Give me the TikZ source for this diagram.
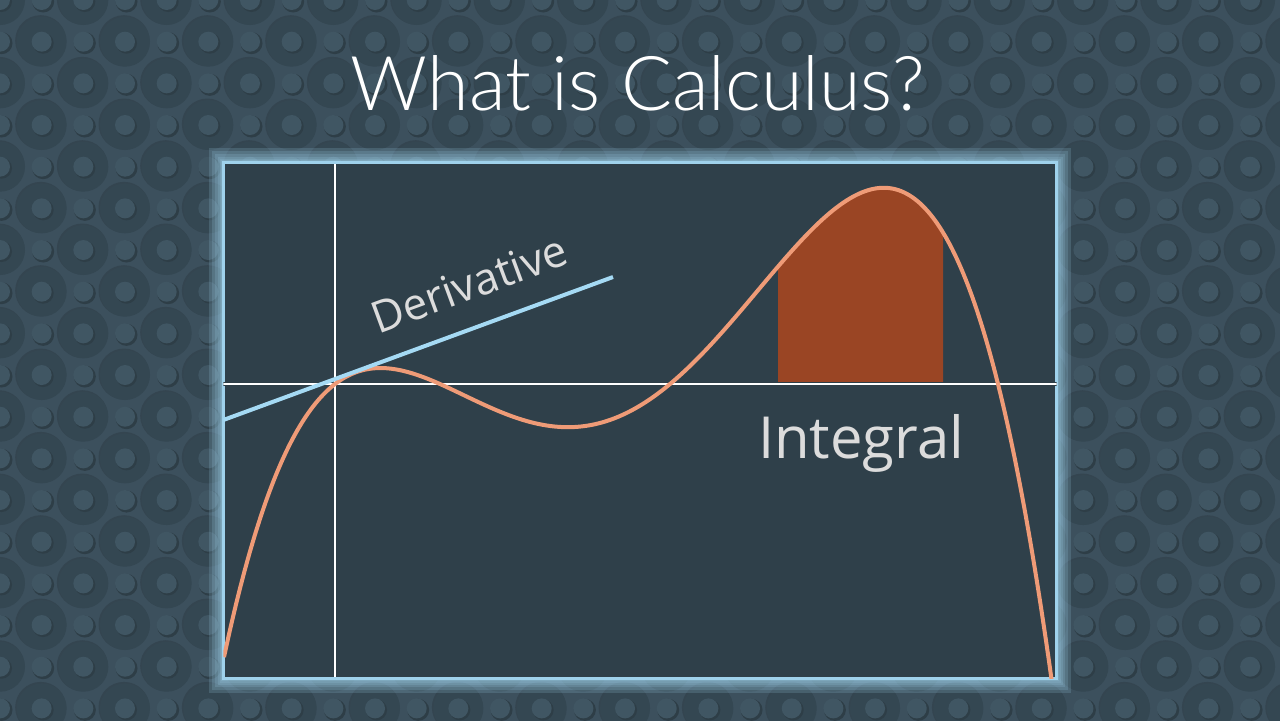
\documentclass[tikz,border=0pt]{standalone}
\usepackage{fontspec}
\setmainfont{Open Sans}
\newfontfamily\titlefont{Lato Light}
\usetikzlibrary{positioning, calc}
\definecolor{Slate}{HTML}{3C505D}
\definecolor{SlateDark}{HTML}{344752}
\definecolor{SlateLight}{HTML}{405663}
\definecolor{SlateShadow}{HTML}{2E3E47}
\definecolor{Board}{HTML}{2F404A}
\definecolor{Glow}{HTML}{9FD2EC}
\definecolor{Salmon}{HTML}{EF9B77}
\definecolor{Rust}{HTML}{9A4524}
\definecolor{SkyLine}{HTML}{A5DAF4}
\definecolor{Chalk}{HTML}{DCDCDC}
\tikzset{
  ringbig/.style={fill=SlateDark},
  dotsmall/.style={fill=SlateLight},
  panelbox/.style={rectangle, fill=Board, inner sep=0pt,
                   minimum width=83.2mm, minimum height=51.5mm},
  axisline/.style={draw=SlateShadow, line width=0.08mm, double=white,
                   double distance=0.28mm},
  funcline/.style={draw=Salmon, line width=0.4mm},
  tangline/.style={draw=SkyLine, line width=0.4mm},
  areafill/.style={fill=Rust},
  labeltext/.style={text=Chalk, inner sep=0pt},
  declare function={f(\x)=384+3.3*((\x-335)/100)*((\x-335)/100-1.05)*((\x-335)/100-3.35)*((\x-335)/100-6.63);}
}
\begin{document}
\begin{tikzpicture}[x=0.1mm, y=-0.1mm]
  \useasboundingbox (0,0) rectangle (1280,720);
  % patterned background
  \begin{scope}
    \clip (-5,-5) rectangle (1285,725);
    \fill[Slate] (-10,-10) rectangle (1290,730);
    \foreach \j in {0,...,18}{
      \foreach \i in {0,...,31}{
        \pgfmathtruncatemacro\isodd{mod(\i+\j,2)}
        \ifnum\isodd=0
          \fill[SlateShadow!60!Slate] (41.67*\i-1,41.67*\j-1) circle (25.5);
          \fill[ringbig] (41.67*\i,41.67*\j) circle (25);
          \fill[SlateShadow] (41.67*\i+1.5,41.67*\j+1.5) circle (10.5);
          \fill[dotsmall] (41.67*\i,41.67*\j) circle (10);
        \else
          \fill[SlateShadow] (41.67*\i+1.5,41.67*\j+1.5) circle (11);
          \fill[dotsmall] (41.67*\i,41.67*\j) circle (10);
        \fi
      }
    }
  \end{scope}
  % title
  \node[anchor=base, text=white, inner sep=0pt,
        font=\titlefont\fontsize{21.5}{25}\selectfont] (title) at (638,110)
    {What is Calculus?};
  % glowing board
  \foreach \w in {30,24,18,13,9,6}
    \draw[Glow, line width=\w*0.1mm, opacity=0.18]
      (224,163) rectangle (1056,678);
  \node[panelbox] (board) at (640,420.5) {};
  \draw[Glow, line width=0.3mm] (board.south west) rectangle (board.north east);
  \coordinate (O) at (335,384);
  \begin{scope}
    \clip (board.south west) rectangle (board.north east);
    % area under the curve
    \fill[areafill] (778,384) -- plot[domain=778:943, samples=40] (\x,{f(\x)})
      -- (943,384) -- cycle;
    % axes
    \draw[axisline] (board.west |- O) -- (board.east |- O);
    \draw[axisline] (O |- board.north) ++(0,2) coordinate (ytop)
      (O |- board.south) ++(0,-2) coordinate (ybot);
    \draw[axisline] (ytop) -- (ybot);
    % function
    \draw[funcline] plot[domain=224:1056, samples=160, smooth] (\x,{f(\x)});
    % tangent
    \coordinate (tanA) at (226,420);
    \coordinate (tanB) at (613,277);
    \draw[tangline] (board.west |- tanA) -- (tanB);
  \end{scope}
  \node[labeltext, rotate=20.3, font=\fontsize{12.5}{15}\selectfont]
    (deriv) at (469,284) {Derivative};
  \node[labeltext, anchor=base, font=\fontsize{16.5}{20}\selectfont]
    (integ) at (861,458) {Integral};
\end{tikzpicture}
\end{document}
